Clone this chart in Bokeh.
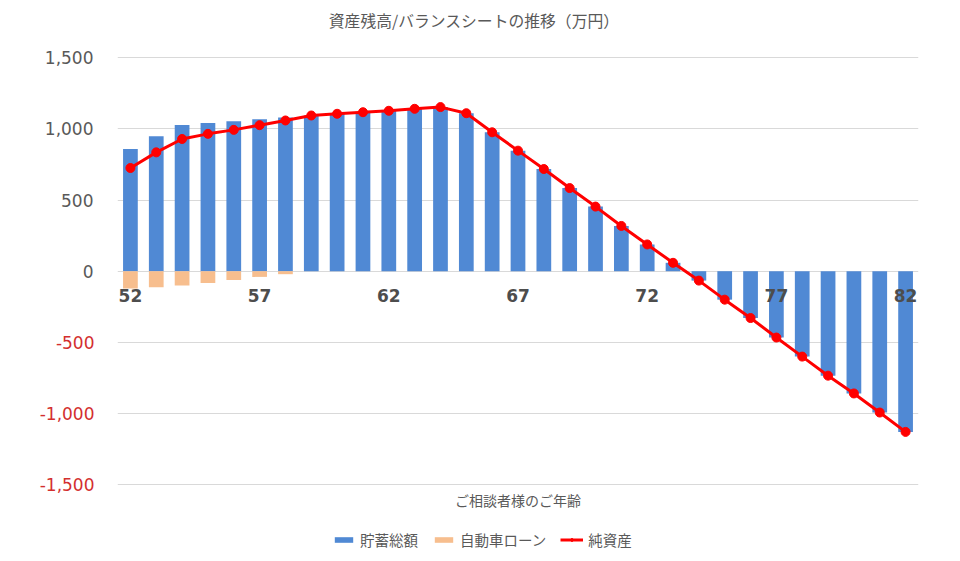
from bokeh.plotting import figure
from bokeh.models import (Range1d, FixedTicker, LinearAxis, NumeralTickFormatter,
                          Legend, LegendItem, Label)
from bokeh.embed import file_html
from bokeh.resources import INLINE

# ---- data ----
ages = list(range(52, 83))
savings_total = [859, 948, 1028, 1042, 1054, 1068, 1080, 1094, 1106, 1117, 1127,
                 1141, 1153, 1110, 976, 847, 718, 584, 454, 318, 188, 59,
                 -66, -200, -329, -466, -600, -734, -859, -993, -1129]
loan_ages = [52, 53, 54, 55, 56, 57, 58]
car_loan = [-122, -113, -101, -83, -61, -40, -21]
net_assets = [725, 835, 929, 965, 993, 1026, 1059, 1094, 1106, 1117, 1127,
              1141, 1153, 1110, 976, 847, 718, 584, 454, 318, 188, 59,
              -66, -200, -329, -466, -600, -734, -859, -993, -1129]
y_ticks_pos = [0, 500, 1000, 1500]
y_ticks_neg = [-1500, -1000, -500]
x_ticks = [52, 57, 62, 67, 72, 77, 82]

title_text = "資産残高/バランスシートの推移（万円）"
x_title = "ご相談者様のご年齢"
series_names = ["貯蓄総額", "自動車ローン", "純資産"]

BLUE = "#5089D4"
ORANGE = "#F7BE8E"
RED = "#FF0000"
GRID = "#D9D9D9"
TXT = "#595959"
NEGRED = "#D32F2F"
JP = "Noto Sans CJK JP"
NUM = "DejaVu Sans"

# the frame spans the full height; the strips above/below the grid hold title, axis title and legend
p = figure(width=952, height=553, title=None, output_backend="svg",
           toolbar_location=None, tools="",
           x_range=Range1d(51.5, 82.5), y_range=Range1d(-1983.4, 1901.9),
           min_border_left=117, min_border_right=34,
           min_border_top=0, min_border_bottom=0)
p.outline_line_color = None
p.background_fill_color = "white"
p.border_fill_color = "white"

# grid
p.xgrid.visible = False
p.ygrid[0].ticker = FixedTicker(ticks=y_ticks_neg + y_ticks_pos)
p.ygrid[0].grid_line_color = GRID
p.ygrid[0].grid_line_width = 1

# y axes: inner (positive, gray) and outer (negative, red) overlapped
ya = p.yaxis[0]
ya.ticker = FixedTicker(ticks=y_ticks_pos)
ya.formatter = NumeralTickFormatter(format="0,0")
ya.major_label_standoff = 24

ya2 = LinearAxis(ticker=FixedTicker(ticks=y_ticks_neg),
                 formatter=NumeralTickFormatter(format="0,0"))
ya2.major_label_standoff = -53
p.add_layout(ya2, "left")
for ax, col in [(ya, TXT), (ya2, NEGRED)]:
    ax.axis_line_color = None
    ax.major_tick_line_color = None
    ax.minor_tick_line_color = None
    ax.major_tick_out = 0
    ax.major_tick_in = 0
    ax.major_label_text_color = col
    ax.major_label_text_font = NUM
    ax.major_label_text_font_size = "17px"

# x axis at zero
xa = p.xaxis[0]
xa.ticker = FixedTicker(ticks=x_ticks)
xa.fixed_location = 0
xa.axis_line_color = None
xa.major_tick_line_color = None
xa.minor_tick_line_color = None
xa.major_tick_out = 0
xa.major_tick_in = 0
xa.major_label_standoff = 18
xa.major_label_text_color = "#4D4D4D"
xa.major_label_text_font = NUM
xa.major_label_text_font_style = "bold"
xa.major_label_text_font_size = "17px"

# glyphs
r_sav = p.vbar(x=ages, top=savings_total, bottom=0, width=0.57,
               fill_color=BLUE, line_color=None)
r_loan = p.vbar(x=loan_ages, top=0, bottom=car_loan, width=0.57,
                fill_color=ORANGE, line_color=None)
r_line = p.line(x=ages, y=net_assets, line_color=RED, line_width=3)
r_dot = p.scatter(x=ages, y=net_assets, size=9, fill_color=RED, line_color=RED)

# chart title
p.add_layout(Label(x=65.30, y=1761, text=title_text, text_align="center",
                   text_baseline="middle", text_font=JP,
                   text_font_size="15.8px", text_color=TXT))

# x axis title
p.add_layout(Label(x=67, y=-1611, text=x_title, text_align="center",
                   text_baseline="middle", text_font=JP,
                   text_font_size="14px", text_color=TXT))

legend = Legend(items=[LegendItem(label=series_names[0], renderers=[r_sav]),
                       LegendItem(label=series_names[1], renderers=[r_loan]),
                       LegendItem(label=series_names[2], renderers=[r_line, r_dot])],
                orientation="horizontal", location=(215, 3),
                glyph_width=23, glyph_height=7, label_standoff=5, spacing=14,
                padding=0, margin=0, border_line_color=None,
                background_fill_alpha=0,
                label_text_font=JP, label_text_font_size="14.5px",
                label_text_color=TXT)
p.add_layout(legend)

open("out.html", "w").write(file_html(p, INLINE))
